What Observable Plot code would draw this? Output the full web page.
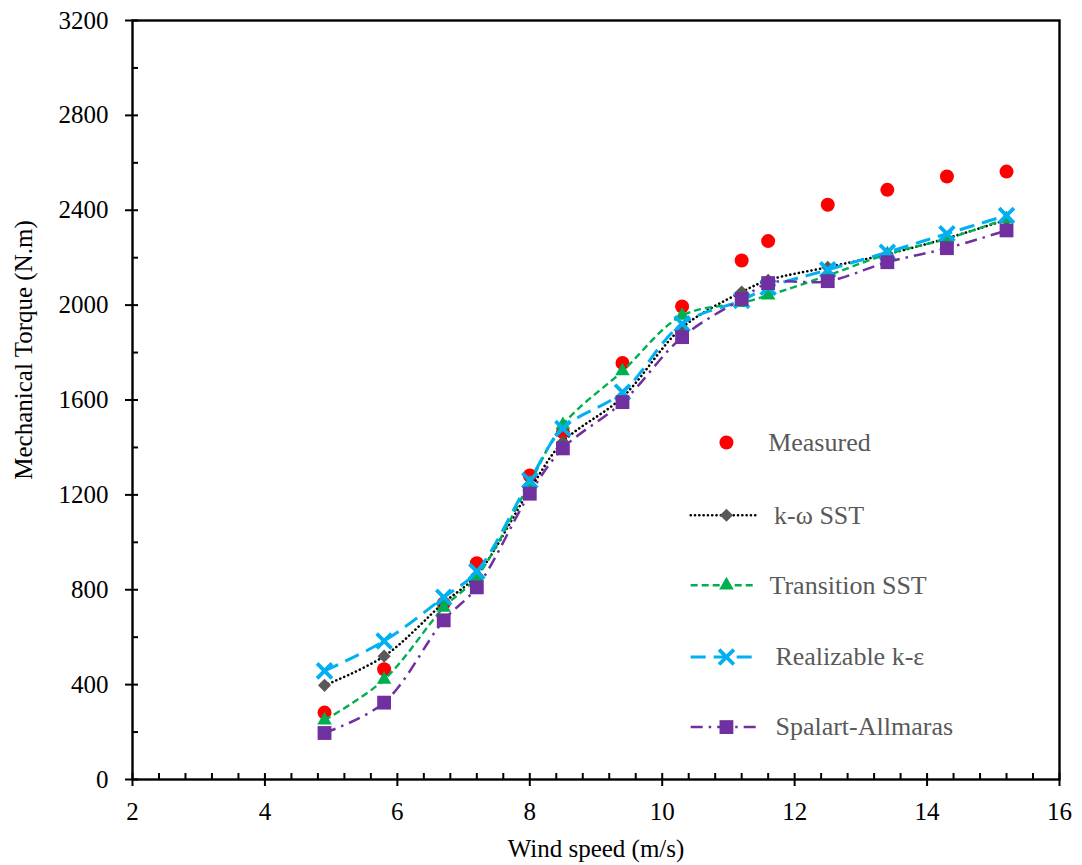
<!DOCTYPE html>
<html><head><meta charset="utf-8">
<script src="https://cdn.jsdelivr.net/npm/d3@7"></script>
<script src="https://cdn.jsdelivr.net/npm/@observablehq/plot@0.6"></script>
<style>body{margin:0;background:#fff;} #chart{width:1082px;height:865px;} svg text{font-family:"Liberation Serif","Times New Roman",serif !important;}</style>
</head><body><div id="chart"></div>
<script>
// ---- data ----
const windSpeed = [4.9, 5.8, 6.7, 7.2, 8.0, 8.5, 9.4, 10.3, 11.2, 11.6, 12.5, 13.4, 14.3, 15.2];
const measured        = [282, 465, 742, 912, 1282, 1465, 1756, 1994, 2188, 2270, 2423, 2486, 2542, 2563];
const kOmegaSST       = [397, 520, 745, 862, 1222, 1423, 1612, 1905, 2055, 2105, 2160, 2215, 2282, 2360];
const transitionSST   = [250, 421, 725, 854, 1250, 1495, 1722, 1956, 2010, 2041, 2125, 2215, 2280, 2364];
const realizableKE    = [458, 584, 768, 877, 1261, 1480, 1633, 1921, 2020, 2075, 2149, 2223, 2301, 2378];
const spalartAllmaras = [196, 324, 671, 810, 1205, 1396, 1591, 1865, 2026, 2093, 2101, 2181, 2240, 2315];
const seriesNames = ["Measured", "k-ω SST", "Transition SST", "Realizable k-ε", "Spalart-Allmaras"];
const xTicks = [2, 4, 6, 8, 10, 12, 14, 16];
const yTicks = [0, 400, 800, 1200, 1600, 2000, 2400, 2800, 3200];
const xLabel = "Wind speed (m/s)";
const yLabel = "Mechanical Torque (N.m)";

// ---- styles ----
const styles = [
  {stroke: "#000000", dash: "0.1 4.2", width: 2.6, cap: "round", symbol: "diamond2", fill: "#595959", mStroke: "none", r: 5.9, mw: 0},
  {stroke: "#00B050", dash: "7 4", width: 2.4, cap: "butt", symbol: "triangle", fill: "#00B050", mStroke: "none", r: 5.4, mw: 0},
  {stroke: "#00B0F0", dash: "15 8", width: 3, cap: "butt", symbol: "times", fill: "none", mStroke: "#00B0F0", r: 6.8, mw: 3.8},
  {stroke: "#7030A0", dash: "12 6 2.5 6", width: 2.5, cap: "butt", symbol: "square", fill: "#7030A0", mStroke: "none", r: 7.8, mw: 0}
];
const modelValues = [kOmegaSST, transitionSST, realizableKE, spalartAllmaras];

const measuredData = windSpeed.map((x, i) => ({x, y: measured[i]}));
const modelData = modelValues.map(vals => windSpeed.map((x, i) => ({x, y: vals[i]})));

// legend layout (data units)
const legendY = [1421, 1114, 819, 516, 221];
const legendLineX = [10.43, 11.42];
const legendMarkerX = 10.97;
const legendTextX = [11.60, 11.69, 11.62, 11.71, 11.71];

const font = "Liberation Serif";
const minorX = d3.range(0, 36).map(i => +(2 + i * 0.4).toFixed(1)).filter(v => !xTicks.includes(v));
const minorY = d3.range(0, 16).map(i => 200 + i * 400).filter(v => v < 3200);

const marks = [];
marks.push(Plot.frame({stroke: "#000", strokeWidth: 2.4}));
// axes
marks.push(Plot.axisY(yTicks, {tickSize: 7, tickPadding: 17, tickFormat: d => String(d), fontSize: 25, fontFamily: font, label: null, strokeWidth: 2}));
marks.push(Plot.axisY(yTicks, {tickSize: -6, fill: "none", label: null, strokeWidth: 2}));
marks.push(Plot.axisY(minorY, {tickSize: -6, fill: "none", label: null, strokeWidth: 2}));
marks.push(Plot.axisX(xTicks, {tickSize: 7, tickPadding: 16, tickFormat: d => String(d), fontSize: 25, fontFamily: font, label: null, strokeWidth: 2}));
marks.push(Plot.axisX(xTicks, {tickSize: -6, fill: "none", label: null, strokeWidth: 2}));
marks.push(Plot.axisX(minorX, {tickSize: -6, fill: "none", label: null, strokeWidth: 2}));
// titles
marks.push(Plot.text([xLabel], {text: d => d, frameAnchor: "bottom", textAnchor: "middle", lineAnchor: "middle", dy: 69, fontSize: 25, fontFamily: font, fill: "#000"}));
marks.push(Plot.text([yLabel], {text: d => d, frameAnchor: "left", textAnchor: "middle", lineAnchor: "middle", rotate: -90, dx: -109, dy: -50, fontSize: 25, fontFamily: font, fill: "#000"}));

// data series: measured first, then models in order
marks.push(Plot.dot(measuredData, {x: "x", y: "y", r: 7, fill: "#FF0000", stroke: "none"}));
modelData.forEach((data, k) => {
  const s = styles[k];
  marks.push(Plot.line(data, {x: "x", y: "y", curve: "catmull-rom", stroke: s.stroke, strokeWidth: s.width, strokeDasharray: s.dash, strokeLinecap: s.cap}));
  marks.push(Plot.dot(data, {x: "x", y: "y", symbol: s.symbol, r: s.r, fill: s.fill, stroke: s.mStroke, strokeWidth: s.mw}));
});

// legend
marks.push(Plot.dot([0], {x: () => legendMarkerX, y: () => legendY[0], r: 7, fill: "#FF0000", stroke: "none"}));
styles.forEach((s, k) => {
  const y = legendY[k + 1];
  marks.push(Plot.line([{x: legendLineX[0], y}, {x: legendLineX[1], y}], {x: "x", y: "y", stroke: s.stroke, strokeWidth: s.width, strokeDasharray: s.dash, strokeLinecap: s.cap}));
  marks.push(Plot.dot([0], {x: () => legendMarkerX, y: () => y, symbol: s.symbol, r: s.r, fill: s.fill, stroke: s.mStroke, strokeWidth: s.mw}));
});
marks.push(Plot.text(seriesNames, {text: d => d, x: (d, i) => legendTextX[i], y: (d, i) => legendY[i], textAnchor: "start", lineAnchor: "middle", fontSize: 26, fontFamily: font, fill: "#595959"}));

const chart = Plot.plot({
  width: 1082,
  height: 865,
  marginLeft: 132,
  marginRight: 23,
  marginTop: 20,
  marginBottom: 86,
  style: {fontFamily: font, fontSize: "25px", color: "#000", background: "#fff", overflow: "visible"},
  x: {domain: [2, 16], type: "linear"},
  y: {domain: [0, 3200], type: "linear"},
  marks
});
document.getElementById("chart").appendChild(chart);
</script>
</body></html>
